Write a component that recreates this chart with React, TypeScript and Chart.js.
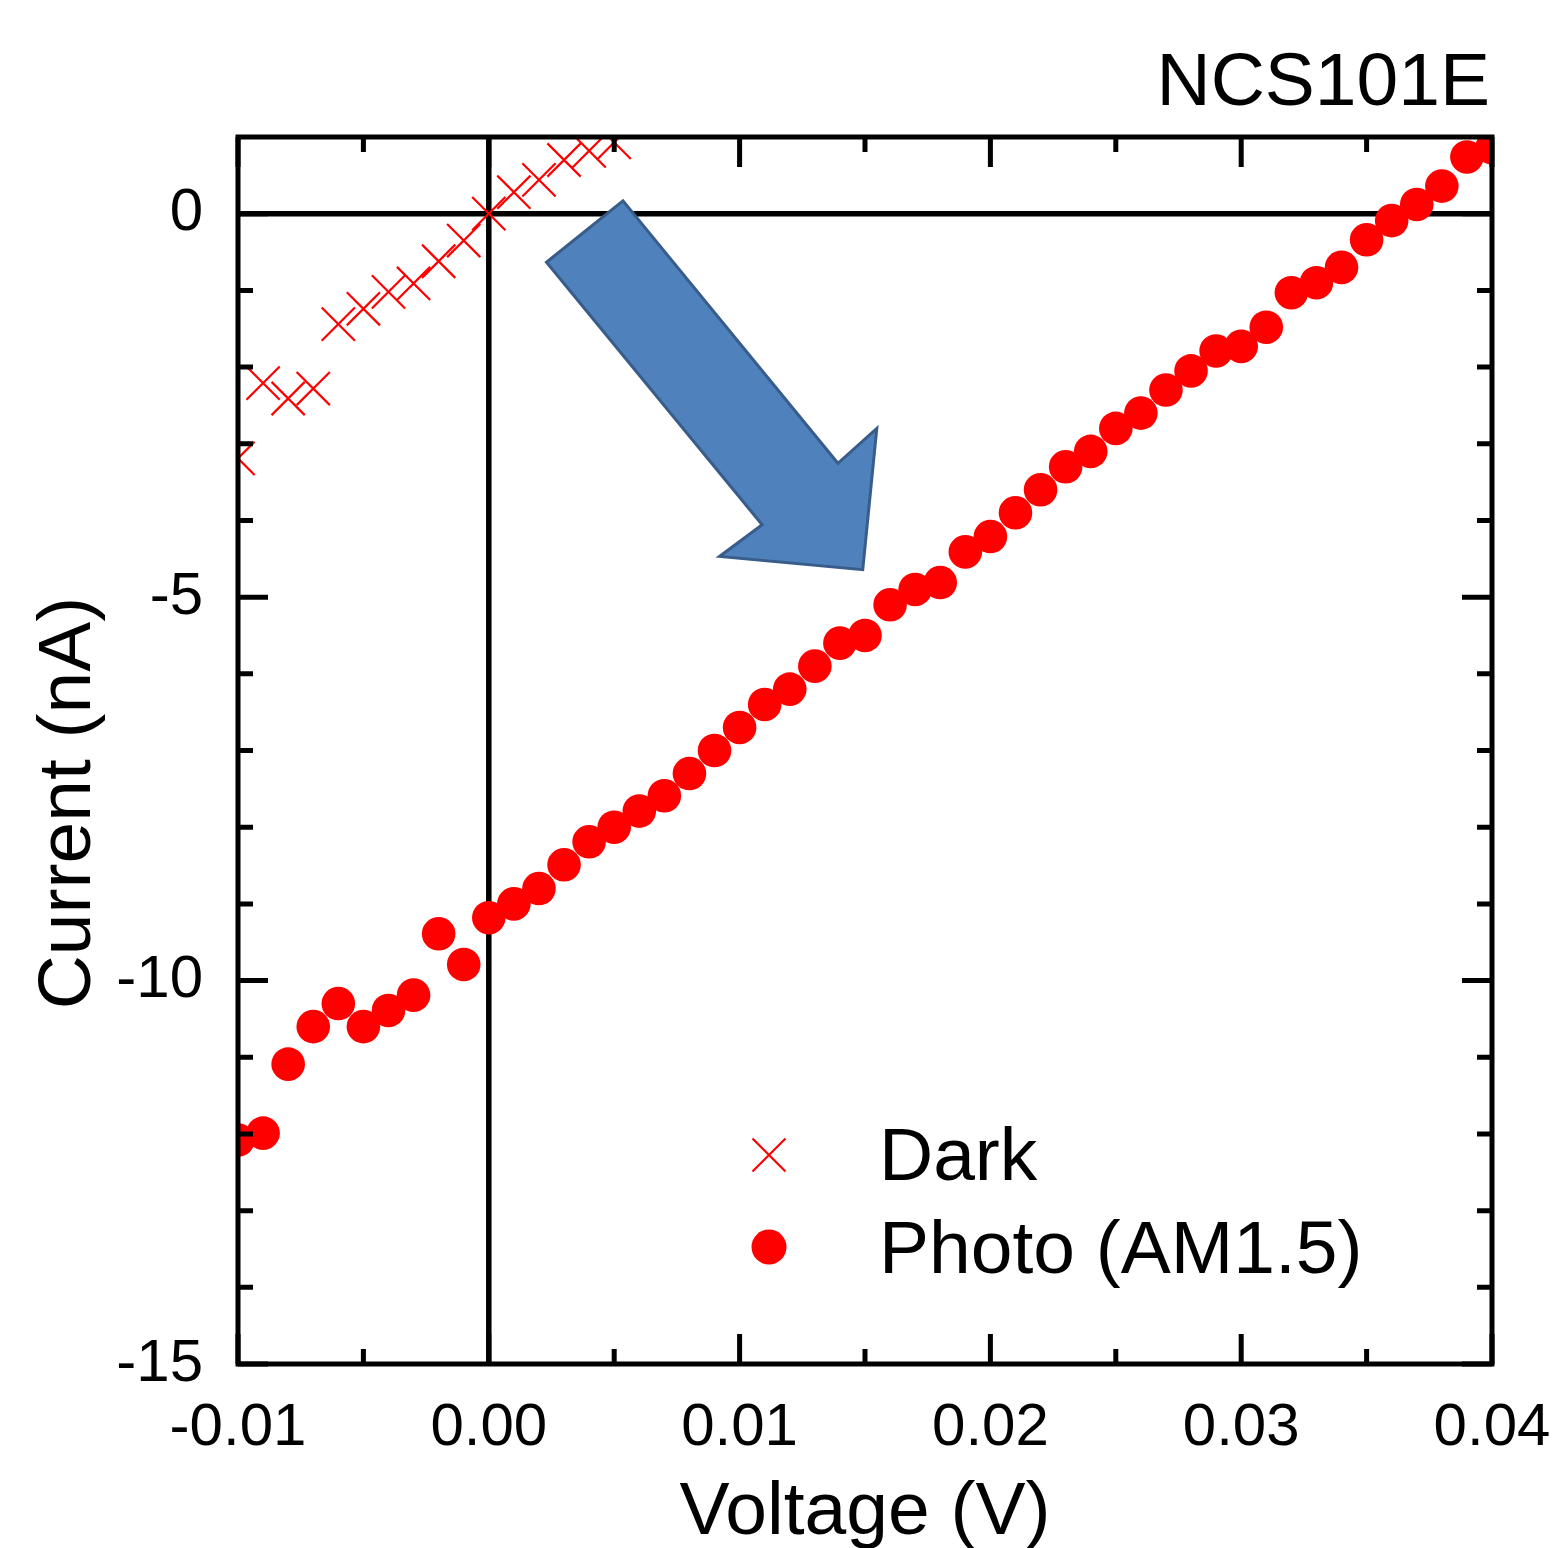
import React, { useEffect, useRef } from 'react';
import { Chart, registerables } from 'chart.js';

Chart.register(...registerables);

// ---------- data ----------
const voltage = [
  -0.010, -0.009, -0.008, -0.007, -0.006, -0.005, -0.004, -0.003, -0.002, -0.001,
  0.000, 0.001, 0.002, 0.003, 0.004, 0.005, 0.006, 0.007, 0.008, 0.009,
  0.010, 0.011, 0.012, 0.013, 0.014, 0.015, 0.016, 0.017, 0.018, 0.019,
  0.020, 0.021, 0.022, 0.023, 0.024, 0.025, 0.026, 0.027, 0.028, 0.029,
  0.030, 0.031, 0.032, 0.033, 0.034, 0.035, 0.036, 0.037, 0.038, 0.039,
  0.040,
];
const photoCurrent = [
  -12.08, -11.99, -11.09, -10.60, -10.30, -10.60, -10.39, -10.19, -9.39, -9.79,
  -9.18, -9.00, -8.80, -8.49, -8.19, -8.00, -7.79, -7.59, -7.30, -7.00,
  -6.70, -6.40, -6.20, -5.90, -5.60, -5.50, -5.10, -4.90, -4.81, -4.41,
  -4.21, -3.90, -3.60, -3.30, -3.10, -2.80, -2.60, -2.30, -2.05, -1.79,
  -1.73, -1.48, -1.03, -0.90, -0.70, -0.34, -0.09, 0.12, 0.36, 0.74,
  0.86,
];
const darkVoltage = [
  -0.010, -0.009, -0.008, -0.007, -0.006, -0.005, -0.004, -0.003, -0.002, -0.001,
  0.000, 0.001, 0.002, 0.003, 0.004, 0.005,
];
const darkCurrent = [
  -3.19, -2.21, -2.41, -2.28, -1.44, -1.24, -1.02, -0.91, -0.62, -0.35,
  0.00, 0.28, 0.44, 0.70, 0.82, 0.93,
];
const seriesLabels = ['Dark', 'Photo (AM1.5)'];
const xTicks = [-0.01, 0.0, 0.01, 0.02, 0.03, 0.04];
const xMinorTicks = [-0.005, 0.005, 0.015, 0.025, 0.035];
const yTicks = [-15, -10, -5, 0];
const yMinorTicks = [-14, -13, -12, -11, -9, -8, -7, -6, -4, -3, -2, -1];
const xTitle = 'Voltage (V)';
const yTitle = 'Current (nA)';
const sampleName = 'NCS101E';
// annotation arrow outline, in data units (voltage, current)
const arrowV = [0.0023, 0.00535, 0.01392, 0.01547, 0.01491, 0.0092, 0.0109];
const arrowI = [-0.633, 0.169, -3.255, -2.8, -4.642, -4.47, -4.057];

const FONT = '"Liberation Sans", Arial, Helvetica, sans-serif';
const RED = '#ff0000';

const decorPlugin = {
  id: 'decor',
  beforeDatasetsDraw(chart: any) {
    const ctx = chart.ctx as CanvasRenderingContext2D;
    const xs = chart.scales.x;
    const ys = chart.scales.y;
    const { left, right, top, bottom } = chart.chartArea;
    ctx.save();
    ctx.strokeStyle = '#000';
    ctx.lineWidth = 5.5;
    ctx.lineCap = 'butt';
    ctx.beginPath();
    const x0 = xs.getPixelForValue(0);
    const y0 = ys.getPixelForValue(0);
    ctx.moveTo(x0, top);
    ctx.lineTo(x0, bottom);
    ctx.moveTo(left, y0);
    ctx.lineTo(right, y0);
    ctx.stroke();
    ctx.restore();
  },
  afterDatasetsDraw(chart: any) {
    const ctx = chart.ctx as CanvasRenderingContext2D;
    const xs = chart.scales.x;
    const ys = chart.scales.y;
    const { left, right, top, bottom } = chart.chartArea;
    ctx.save();

    // arrow
    ctx.beginPath();
    arrowV.forEach((v, i) => {
      const px = xs.getPixelForValue(v);
      const py = ys.getPixelForValue(arrowI[i]);
      if (i === 0) ctx.moveTo(px, py);
      else ctx.lineTo(px, py);
    });
    ctx.closePath();
    ctx.fillStyle = '#4f81bd';
    ctx.fill();
    ctx.lineWidth = 3;
    ctx.strokeStyle = '#385d8a';
    ctx.lineJoin = 'miter';
    ctx.stroke();

    // frame
    ctx.strokeStyle = '#000';
    ctx.lineWidth = 5;
    ctx.lineJoin = 'miter';
    ctx.strokeRect(left, top, right - left, bottom - top);

    // inward ticks
    const major = 30;
    const minor = 15;
    ctx.lineWidth = 5;
    ctx.lineCap = 'butt';
    ctx.beginPath();
    const vTick = (v: number, len: number) => {
      const px = xs.getPixelForValue(v);
      ctx.moveTo(px, bottom);
      ctx.lineTo(px, bottom - len);
      ctx.moveTo(px, top);
      ctx.lineTo(px, top + len);
    };
    const hTick = (v: number, len: number) => {
      const py = ys.getPixelForValue(v);
      ctx.moveTo(left, py);
      ctx.lineTo(left + len, py);
      ctx.moveTo(right, py);
      ctx.lineTo(right - len, py);
    };
    xTicks.forEach((v) => vTick(v, major));
    xMinorTicks.forEach((v) => vTick(v, minor));
    yTicks.forEach((v) => hTick(v, major));
    yMinorTicks.forEach((v) => hTick(v, minor));
    ctx.stroke();

    // titles
    ctx.fillStyle = '#000';
    ctx.font = `75px ${FONT}`;
    ctx.textBaseline = 'alphabetic';
    ctx.textAlign = 'center';
    ctx.fillText(xTitle, (left + right) / 2, 1534);
    ctx.save();
    ctx.translate(90, 803);
    ctx.rotate(-Math.PI / 2);
    ctx.fillText(yTitle, 0, 0);
    ctx.restore();
    ctx.textAlign = 'right';
    ctx.fillText(sampleName, right - 2, 105);

    // legend
    const lx = 769;
    const ly1 = 1155;
    const ly2 = 1247;
    ctx.strokeStyle = RED;
    ctx.lineWidth = 2.2;
    ctx.beginPath();
    const h = 16.5;
    ctx.moveTo(lx - h, ly1 - h);
    ctx.lineTo(lx + h, ly1 + h);
    ctx.moveTo(lx + h, ly1 - h);
    ctx.lineTo(lx - h, ly1 + h);
    ctx.stroke();
    ctx.fillStyle = RED;
    ctx.beginPath();
    ctx.arc(lx, ly2, 17.5, 0, Math.PI * 2);
    ctx.fill();
    ctx.fillStyle = '#000';
    ctx.textAlign = 'left';
    ctx.fillText(seriesLabels[0], 879, 1180);
    ctx.fillText(seriesLabels[1], 879, 1273);

    ctx.restore();
  },
};

export default function App() {
  const ref = useRef<HTMLCanvasElement>(null);
  useEffect(() => {
    document.body.style.margin = '0';
    const canvas = ref.current!;
    const chart = new Chart(canvas, {
      type: 'scatter',
      data: {
        datasets: [
          {
            label: seriesLabels[0],
            data: darkVoltage.map((v, i) => ({ x: v, y: darkCurrent[i] })),
            pointStyle: 'crossRot',
            pointRadius: 23.5,
            pointBorderColor: RED,
            pointBackgroundColor: RED,
            pointBorderWidth: 2.2,
            showLine: false,
            clip: 0,
          },
          {
            label: seriesLabels[1],
            data: voltage.map((v, i) => ({ x: v, y: photoCurrent[i] })),
            pointStyle: 'circle',
            pointRadius: 16.8,
            pointBackgroundColor: RED,
            pointBorderColor: RED,
            pointBorderWidth: 0,
            showLine: false,
            clip: 0,
          },
        ],
      },
      options: {
        animation: false,
        responsive: false,
        events: [],
        layout: { padding: { top: 137, right: 62, left: 0, bottom: 0 } },
        plugins: {
          legend: { display: false },
          tooltip: { enabled: false },
          title: { display: false },
        },
        scales: {
          x: {
            type: 'linear',
            min: -0.01,
            max: 0.04,
            afterBuildTicks: (s: any) => {
              s.ticks = xTicks.map((v) => ({ value: v }));
            },
            afterFit: (s: any) => {
              s.height = 184;
              s.paddingLeft = 0;
              s.paddingRight = 0;
            },
            ticks: {
              autoSkip: false,
              maxRotation: 0,
              minRotation: 0,
              padding: 28,
              color: '#000',
              font: { family: FONT, size: 60 },
              callback: (v: any) => (Math.abs(Number(v)) < 1e-12 ? '0.00' : Number(v).toFixed(2)),
            },
            grid: { display: false, drawTicks: false },
            border: { display: false },
            title: { display: false },
          },
          y: {
            type: 'linear',
            min: -15,
            max: 1,
            afterBuildTicks: (s: any) => {
              s.ticks = yTicks.map((v) => ({ value: v }));
            },
            afterFit: (s: any) => {
              s.width = 238;
              s.paddingTop = 0;
              s.paddingBottom = 0;
            },
            ticks: {
              autoSkip: false,
              padding: 35,
              color: '#000',
              font: { family: FONT, size: 60 },
              callback: (v: any) => String(v),
            },
            grid: { display: false, drawTicks: false },
            border: { display: false },
            title: { display: false },
          },
        },
      },
      plugins: [decorPlugin],
    } as any);
    return () => chart.destroy();
  }, []);
  return (
    <div style={{ position: 'absolute', left: 0, top: 0, width: 1554, height: 1548, background: '#fff' }}>
      <canvas ref={ref} width={1554} height={1548} style={{ display: 'block', width: 1554, height: 1548 }} />
    </div>
  );
}
